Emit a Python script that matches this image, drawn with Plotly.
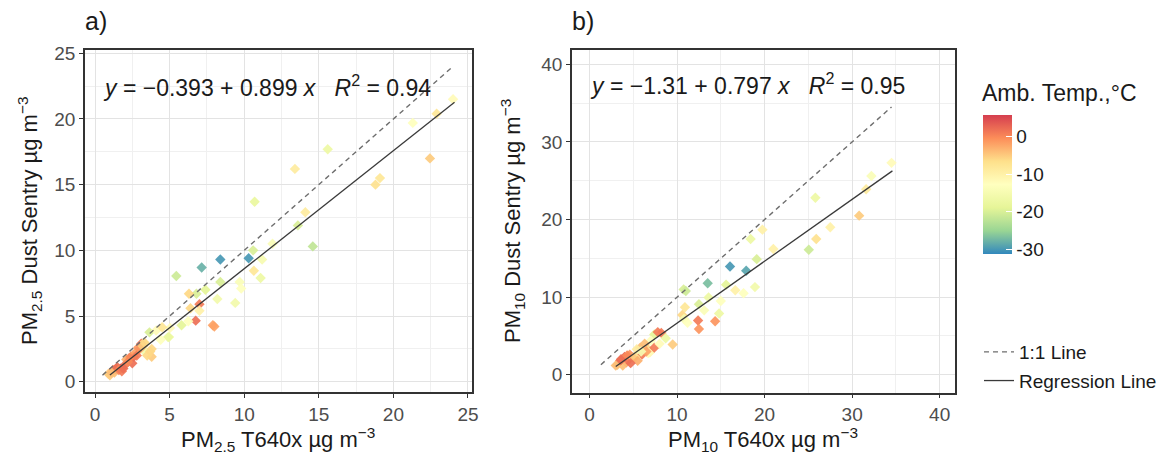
import plotly.graph_objects as go

# ---------------- data ----------------
# Panel a: PM2.5
a_x = [24.0, 22.9, 21.3, 22.45, 18.8, 19.1, 15.6, 13.4, 14.1, 13.6, 14.6, 10.7, 11.9, 10.6, 10.3,
       11.2, 10.65, 11.1, 8.4, 7.15, 5.45, 8.4, 9.7, 9.8, 7.4, 6.8, 6.3, 8.2, 9.4, 7.0,
       6.4, 7.0, 6.75, 7.9, 8.0, 5.8, 6.25, 4.96, 5.03, 4.9, 4.4, 3.65, 3.35, 3.25, 3.8,
       3.8, 3.7, 3.1, 3.0, 2.6, 2.5, 2.3, 2.0, 1.7, 1.5, 1.3, 1.0, 2.1, 4.1, 4.5,
       1.2, 1.4, 1.6, 1.8, 1.9, 2.2, 2.4, 2.7, 2.8, 2.9, 3.2, 3.3, 3.5, 0.9, 1.1]
a_y = [21.5, 20.4, 19.7, 17.0, 15.0, 15.5, 17.7, 16.2, 12.9, 11.9, 10.3, 13.7, 10.5, 10.0, 9.4,
       9.3, 8.45, 7.9, 9.3, 8.7, 8.05, 7.6, 7.6, 7.1, 7.0, 6.7, 6.7, 6.3, 6.0, 5.9,
       5.6, 5.4, 4.65, 4.3, 4.2, 4.3, 4.6, 3.4, 4.1, 3.4, 3.2, 3.76, 2.9, 2.4, 2.5,
       1.9, 2.3, 2.9, 2.5, 1.9, 1.4, 1.8, 1.27, 1.0, 1.1, 0.7, 0.5, 1.7, 3.9, 4.15,
       0.9, 1.0, 0.9, 0.8, 1.0, 1.5, 1.9, 2.2, 2.0, 2.6, 2.7, 3.0, 2.0, 0.6, 0.7]
a_t = [-12, -8, -13, -5, -7, -8, -17, -9, -9, -20, -22, -18, -14, -20, -30,
       -15, -8, -17, -30, -28, -21, -20, -14, -13, -19, -20, -6, -16, -16, 1,
       -6, -10, 2, -2, -2, -19, -13, -17, -12, -18, -13, -20, -11, -16, -6,
       -5, -6, 2, -1, 2, 2, 2, 2, 3, 2, -4, -5, -3, -12, -8,
       1, 2, 0, 1, 2, 0, 0, -2, 1, -1, -5, -6, -6, -5, -4]

# Panel b: PM10
b_x = [34.5, 32.2, 31.6, 30.8, 25.8, 27.5, 25.9, 25.05, 21.0, 19.75, 18.4, 19.1, 17.9, 16.05, 13.5,
       15.6, 16.65, 17.6, 18.9, 10.75, 11.0, 13.6, 12.5, 13.1, 15.0, 14.8, 10.9, 10.6, 10.8, 11.2,
       12.4, 12.5, 14.35, 9.5, 8.2, 7.4, 8.7, 7.0, 6.6, 6.9, 7.4, 6.7, 6.0, 5.8, 5.4,
       5.2, 4.5, 4.2, 3.8, 3.2, 3.5, 4.0, 4.6, 5.0, 5.5, 4.7, 6.3, 6.5, 8.0, 5.9,
       3.0, 3.6, 4.3, 7.8]
b_y = [27.3, 25.6, 23.9, 20.5, 22.8, 19.0, 17.5, 16.1, 16.2, 18.7, 17.5, 14.9, 13.4, 13.95, 11.8,
       11.6, 10.9, 10.5, 11.3, 11.0, 10.8, 9.95, 9.1, 8.3, 9.5, 7.9, 8.7, 7.7, 7.2, 6.7,
       7.0, 5.9, 6.9, 3.9, 5.4, 5.2, 4.7, 4.4, 3.4, 2.9, 3.5, 2.8, 2.6, 3.5, 3.3,
       2.3, 2.0, 1.6, 1.2, 1.3, 1.8, 2.3, 2.6, 2.2, 1.8, 1.5, 4.0, 3.0, 4.0, 3.0,
       1.2, 2.0, 2.5, 5.5]
b_t = [-12, -14, -9, -5, -17, -10, -7, -21, -10, -10, -17, -20, -29, -30, -27,
       -19, -10, -13, -16, -20, -21, -17, -20, -14, -13, -17, -8, -6, -15, -13,
       1, -1, -1, -5, 1, -19, -17, -13, -6, -11, 1, -12, 1, -4, -9,
       -7, 1, 1, -4, -5, 2, 3, -1, -5, -3, 2, -4, -2, -12, -15,
       -4, 2, 0, 1]

# regression coefficients (intercept, slope, R2)
a_coef = [-0.393, 0.899, 0.94]
b_coef = [-1.31, 0.797, 0.95]
a_fit_range = [1.0, 24.1]
a_one_range = [0.5, 24.0]
b_fit_range = [3.0, 34.6]
b_one_range = [1.3, 34.5]

a_ticks = [0, 5, 10, 15, 20, 25]
b_ticks = [0, 10, 20, 30, 40]
cbar_ticks = [0, -10, -20, -30]
temp_min, temp_max = -31.3, 5.8

# ---------------- styling ----------------
OFF = 8                      # page body margin of the browser
W, H = 1174 - OFF, 461 - OFF
FONT = "Liberation Sans, Arial, sans-serif"
spectral = ['#3288BD', '#99D594', '#E6F598', '#FFFFBF', '#FEE08B', '#FC8D59', '#D53E4F']
cscale = [[i / (len(spectral) - 1), c] for i, c in enumerate(spectral)]

def px_x(p):
    return (p - OFF) / W

def px_y(p):
    return 1 - (p - OFF) / H

fig = go.Figure()

marker_common = dict(symbol="diamond", size=8, coloraxis="coloraxis", opacity=0.92, line=dict(width=0))

fig.add_trace(go.Scatter(x=a_x, y=a_y, mode="markers", marker=dict(color=a_t, **marker_common),
                         showlegend=False, xaxis="x", yaxis="y"))
fig.add_trace(go.Scatter(x=b_x, y=b_y, mode="markers", marker=dict(color=b_t, **marker_common),
                         showlegend=False, xaxis="x2", yaxis="y2"))

def line_pts(rng, coef=None):
    if coef is None:
        return rng, rng
    return rng, [coef[0] + coef[1] * v for v in rng]

dash_style = dict(color="#6e6e6e", width=1.4, dash="5px,4px")
solid_style = dict(color="#3a3a3a", width=1.3)

x1, y1 = line_pts(a_one_range)
fig.add_trace(go.Scatter(x=x1, y=y1, mode="lines", line=dash_style, name="1:1 Line",
                         legendgroup="one", xaxis="x", yaxis="y"))
x1, y1 = line_pts(a_fit_range, a_coef)
fig.add_trace(go.Scatter(x=x1, y=y1, mode="lines", line=solid_style, name="Regression Line",
                         legendgroup="fit", xaxis="x", yaxis="y"))
x1, y1 = line_pts(b_one_range)
fig.add_trace(go.Scatter(x=x1, y=y1, mode="lines", line=dash_style, name="1:1 Line",
                         showlegend=False, xaxis="x2", yaxis="y2"))
x1, y1 = line_pts(b_fit_range, b_coef)
fig.add_trace(go.Scatter(x=x1, y=y1, mode="lines", line=solid_style, name="Regression Line",
                         showlegend=False, xaxis="x2", yaxis="y2"))

axis_common = dict(showline=True, mirror=True, linecolor="#333333", linewidth=1.6,
                   ticks="outside", ticklen=4, tickcolor="#333333", tickwidth=1.2,
                   showgrid=True, gridcolor="#e3e3e3", gridwidth=1.2, zeroline=False,
                   tickfont=dict(size=19, color="#4d4d4d", family=FONT))

fig.update_layout(
    width=W, height=H,
    margin=dict(l=0, r=0, t=0, b=0, autoexpand=False),
    paper_bgcolor="white", plot_bgcolor="white",
    font=dict(family=FONT, color="#1a1a1a"),
    xaxis=dict(domain=[px_x(85), px_x(472)], range=[-0.67, 25.27], tickvals=a_ticks,
               minor=dict(dtick=2.5, tick0=2.5, showgrid=True, gridcolor="#f0f0f0", gridwidth=0.8, ticks=""),
               anchor="y", **axis_common),
    yaxis=dict(domain=[px_y(392), px_y(50)], range=[-0.78, 25.25], tickvals=a_ticks,
               minor=dict(dtick=2.5, tick0=2.5, showgrid=True, gridcolor="#f0f0f0", gridwidth=0.8, ticks=""),
               anchor="x", **axis_common),
    xaxis2=dict(domain=[px_x(572), px_x(955)], range=[-2.0, 41.75], tickvals=b_ticks,
                minor=dict(dtick=5, tick0=5, showgrid=True, gridcolor="#f0f0f0", gridwidth=0.8, ticks=""),
                anchor="y2", **axis_common),
    yaxis2=dict(domain=[px_y(392.5), px_y(50)], range=[-2.28, 41.84], tickvals=b_ticks,
                minor=dict(dtick=5, tick0=5, showgrid=True, gridcolor="#f0f0f0", gridwidth=0.8, ticks=""),
                anchor="x2", **axis_common),
    coloraxis=dict(
        colorscale=cscale, cmin=temp_min, cmax=temp_max,
        colorbar=dict(x=px_x(983), xanchor="left", xref="container",
                      y=px_y(115), yanchor="top", yref="container",
                      len=(254 - 115) / H, lenmode="fraction",
                      thickness=29, thicknessmode="pixels",
                      xpad=0, ypad=0, outlinewidth=0,
                      tickvals=cbar_ticks, ticktext=[str(v) for v in cbar_ticks],
                      ticks="inside", ticklen=6, tickcolor="white", tickwidth=1.3,
                      tickfont=dict(size=19, color="#1a1a1a", family=FONT))),
    legend=dict(x=px_x(979), y=px_y(333), xanchor="left", yanchor="top",
                font=dict(size=19, color="#1a1a1a", family=FONT),
                bgcolor="rgba(0,0,0,0)", itemwidth=30, tracegroupgap=1),
)

def eq_text(c):
    sign = "\u2212" if c[0] < 0 else "+"
    return (f"<i>y</i> = {sign}{abs(c[0]):g} + {c[1]:g} <i>x</i>   "
            f"<i>R</i><sup>2</sup> = {c[2]:.2f}")

ann = [
    dict(text=eq_text(a_coef), x=px_x(101), y=px_y(86), xanchor="left", yanchor="middle",
         font=dict(size=23, color="#1a1a1a")),
    dict(text=eq_text(b_coef), x=px_x(588), y=px_y(84), xanchor="left", yanchor="middle",
         font=dict(size=23, color="#1a1a1a")),
    dict(text="a)", x=px_x(83), y=px_y(21), xanchor="left", yanchor="middle",
         font=dict(size=25, color="#1a1a1a")),
    dict(text="b)", x=px_x(570), y=px_y(21), xanchor="left", yanchor="middle",
         font=dict(size=25, color="#1a1a1a")),
    dict(text="PM<sub>2.5</sub> T640x \u00b5g m<sup>\u22123</sup>", x=px_x(278), y=px_y(439),
         xanchor="center", yanchor="middle", font=dict(size=22, color="#1a1a1a")),
    dict(text="PM<sub>10</sub> T640x \u00b5g m<sup>\u22123</sup>", x=px_x(763), y=px_y(439),
         xanchor="center", yanchor="middle", font=dict(size=22, color="#1a1a1a")),
    dict(text="PM<sub>2.5</sub> Dust Sentry \u00b5g m<sup>\u22123</sup>", x=px_x(30), y=px_y(221),
         xanchor="center", yanchor="middle", textangle=-90, font=dict(size=22, color="#1a1a1a")),
    dict(text="PM<sub>10</sub> Dust Sentry \u00b5g m<sup>\u22123</sup>", x=px_x(513), y=px_y(221),
         xanchor="center", yanchor="middle", textangle=-90, font=dict(size=22, color="#1a1a1a")),
    dict(text="Amb. Temp.,\u00b0C", x=px_x(980), y=px_y(93), xanchor="left", yanchor="middle",
         font=dict(size=23, color="#1a1a1a")),
]
for a in ann:
    a.update(xref="paper", yref="paper", showarrow=False)
fig.update_layout(annotations=ann)

fig.write_html("out.html")
